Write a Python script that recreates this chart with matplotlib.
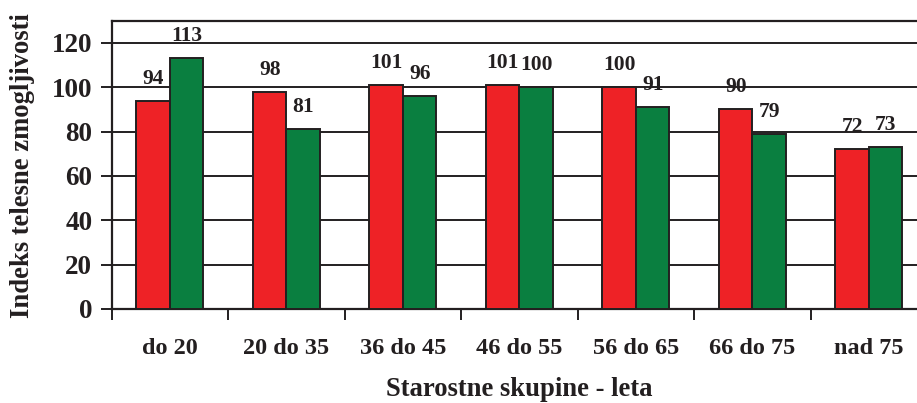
import matplotlib
matplotlib.use("Agg")
import matplotlib.pyplot as plt
import numpy as np

categories = ["do 20", "20 do 35", "36 do 45", "46 do 55", "56 do 65", "66 do 75", "nad 75"]
series_red = [94, 98, 101, 101, 100, 90, 72]
series_green = [113, 81, 96, 100, 91, 79, 73]
yticks = [0, 20, 40, 60, 80, 100, 120]

plt.rcParams['font.family'] = ['Liberation Serif', 'DejaVu Serif']
plt.rcParams['font.weight'] = 'bold'

DPI = 100
fig = plt.figure(figsize=(9.17, 4.03), dpi=DPI)
W, H = 917, 403
left, right_px, top_px, bot_px = 111.7, 111.7 + 815.5, 20.7, 309
ax = fig.add_axes([left / W, 1 - bot_px / H, (right_px - left) / W, (bot_px - top_px) / H])

RED = '#EE2226'
GREEN = '#0A7F40'
EDGE = '#231F20'

x = np.arange(len(categories))
bw = 0.2875
ax.set_axisbelow(True)
ax.yaxis.grid(True, color=EDGE, linewidth=1.4)
b1 = ax.bar(x - bw / 2, series_red, bw, color=RED, edgecolor=EDGE, linewidth=1.4, zorder=3)
b2 = ax.bar(x + bw / 2, series_green, bw, color=GREEN, edgecolor=EDGE, linewidth=1.4, zorder=3)

for bars, vals in ((b1, series_red), (b2, series_green)):
    for rect, v in zip(bars, vals):
        ax.annotate(str(v), (rect.get_x() + rect.get_width() / 2, v),
                    xytext=(0, 12.2), textcoords='offset points',
                    ha='center', va='baseline', fontsize=15.5, fontweight='bold',
                    color=EDGE, zorder=4)

ax.set_xlim(-0.5, len(categories) - 0.5)
ax.set_ylim(0, 130)
ax.set_yticks(yticks)
ax.set_yticklabels([str(t) for t in yticks], fontsize=19.5, fontweight='bold', color=EDGE)
ax.set_xticks(x)
ax.set_xticklabels(categories, fontsize=17.5, fontweight='bold', color=EDGE)
ax.tick_params(axis='x', which='major', length=0, pad=21)
ax.set_xticks(np.arange(len(categories) + 1) - 0.5, minor=True)
ax.tick_params(axis='x', which='minor', length=8, width=1.4, color=EDGE, direction='out')
ax.tick_params(axis='y', which='major', length=8, width=1.4, color=EDGE, direction='out', pad=6)

for s in ax.spines.values():
    s.set_color(EDGE)
    s.set_linewidth(1.6)

fig.text(519 / W, 1 - 390 / H, "Starostne skupine - leta", ha='center', va='center',
         fontsize=19.2, fontweight='bold', color=EDGE)
fig.text(23 / W, 1 - 166 / H, "Indeks telesne zmogljivosti", ha='center', va='center',
         rotation=90, fontsize=19.2, fontweight='bold', color=EDGE)

fig.savefig("out.png", dpi=DPI)
